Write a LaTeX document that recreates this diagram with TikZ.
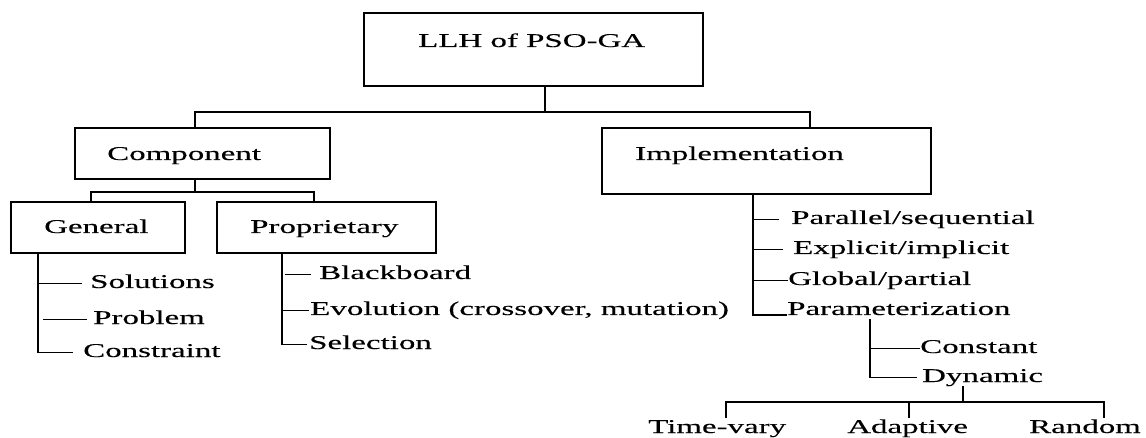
\documentclass[tikz,border=0pt]{standalone}
\usepackage{fontspec}
\setmainfont{Liberation Serif}[FakeStretch=1.69,FakeBold=0.2]
\tikzset{
  box/.style={draw, line width=2.7pt, inner sep=0pt},
  txt/.style={inner sep=0pt, anchor=base west, text height=13pt, text depth=4pt,
              font=\fontsize{19.5pt}{21pt}\selectfont},
  conn/.style={line width=1.7pt},
}
\begin{document}
\begin{tikzpicture}[x=1pt,y=-1pt]
\useasboundingbox (0,0) rectangle (1146,438);
% boxes
\node[box, minimum width=339pt, minimum height=73pt] (top) at (533.5,49.5) {};
\node[box, minimum width=255pt, minimum height=51pt] (comp) at (202.5,153.5) {};
\node[box, minimum width=329pt, minimum height=66pt] (impl) at (766.5,161) {};
\node[box, minimum width=174pt, minimum height=51pt] (gen) at (98,227.5) {};
\node[box, minimum width=219pt, minimum height=51pt] (prop) at (326.5,227.5) {};
% texts
\node[txt] (toptxt) at (418,47) {LLH of PSO-GA};
\node[txt] (comptxt) at (107,160) {Component};
\node[txt] (impltxt) at (635,160) {Implementation};
\node[txt] (gentxt) at (44,233) {General};
\node[txt] (proptxt) at (250,233) {Proprietary};
\node[txt] (sol) at (90,288) {Solutions};
\node[txt] (prob) at (93,324) {Problem};
\node[txt] (cons) at (83,357) {Constraint};
\node[txt] (bb) at (319,279) {Blackboard};
\node[txt] (evo) at (310,315) {Evolution (crossover, mutation)};
\node[txt] (sel) at (309,349) {Selection};
\node[txt] (par) at (791,224) {Parallel/sequential};
\node[txt] (expl) at (793,254) {Explicit/implicit};
\node[txt] (glob) at (788,285) {Global/partial};
\node[txt] (param) at (787,315) {Parameterization};
\node[txt] (const) at (920,353) {Constant};
\node[txt] (dyn) at (922,382) {Dynamic};
\node[txt] (tv) at (648,433) {Time-vary};
\node[txt] (adp) at (847,433) {Adaptive};
\node[txt] (rnd) at (1029,433) {Random};
% top level connectors
\coordinate (j0) at (545,112);
\coordinate (xa) at (195,0);
\coordinate (xb) at (810,0);
\draw[conn] (top.south -| j0) -- (j0);
\draw[conn] (comp.north -| xa) |- (j0) -| (impl.north -| xb);
% component
\coordinate (j1) at (195,192);
\coordinate (xc) at (91,0);
\coordinate (xd) at (314,0);
\draw[conn] (comp.south -| j1) -- (j1);
\draw[conn] (gen.north -| xc) |- (j1) -| (prop.north -| xd);
% general list
\coordinate (gx) at (38,0);
\coordinate (gx2) at (43,0);
\draw[conn] (gen.south -| gx) |- ([xshift=-10pt]cons.west);
\draw[conn] (gx |- sol.west) -- ([xshift=-8pt]sol.west);
\draw[conn] (gx2 |- prob.west) -- ([xshift=-6pt]prob.west);
% proprietary list
\coordinate (px) at (282,0);
\coordinate (px2) at (285,0);
\draw[conn] (prop.south -| px) |- ([xshift=-2pt]sel.west);
\draw[conn] (px2 |- bb.west) -- ([xshift=-8pt]bb.west);
\draw[conn] (px |- evo.west) -- ([xshift=-1pt]evo.west);
% implementation list
\coordinate (ix) at (753,0);
\draw[conn] (impl.south -| ix) |- (param.base west);
\draw[conn] (ix |- par.west) -- ([xshift=-12pt]par.west);
\draw[conn] (ix |- expl.west) -- ([xshift=-10pt]expl.west);
\draw[conn] (ix |- glob.west) -- (glob.west);
% parameterization
\coordinate (qx) at (870,0);
\draw[conn] (param.south -| qx) |- ([xshift=-5pt]dyn.west);
\draw[conn] (qx |- const.west) -- (const.west);
% dynamic
\coordinate (j2) at (963,402);
\coordinate (xe) at (726,0);
\coordinate (xf) at (909,0);
\coordinate (xg) at (1104,0);
\draw[conn] (dyn.south -| j2) -- (j2);
\draw[conn, shorten <=2pt, shorten >=2pt] (tv.north -| xe) |- (j2) -| (rnd.north -| xg);
\draw[conn, shorten <=2pt] (adp.north -| xf) -- (j2 -| xf);
\end{tikzpicture}
\end{document}
